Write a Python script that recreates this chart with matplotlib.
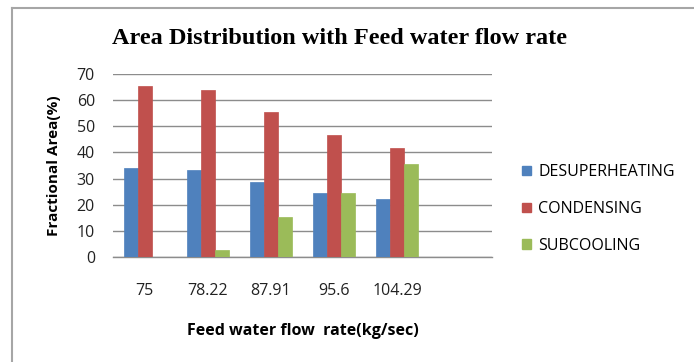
import matplotlib.pyplot as plt
import numpy as np
from matplotlib.lines import Line2D
from matplotlib.patches import Patch

# Data
flow_rates = ["75", "78.22", "87.91", "95.6", "104.29"]
desuperheating = [34.2, 33.1, 28.5, 24.4, 22.2]
condensing = [65.5, 63.7, 55.3, 46.6, 41.6]
subcooling = [0.0, 2.8, 15.4, 24.5, 35.4]

series = [
	("DESUPERHEATING", desuperheating, "#4F81BD"),
	("CONDENSING", condensing, "#C0504D"),
	("SUBCOOLING", subcooling, "#9BBB59"),
]

W, H = 694, 362
fig = plt.figure(figsize=(W / 100, H / 100), dpi=100)

# plot area in pixel coords: x 113..492, y 74..257
left, right, top, bottom = 113, 492, 74, 257
ax = fig.add_axes([left / W, 1 - bottom / H, (right - left) / W, (bottom - top) / H])

x = np.arange(len(flow_rates))
bar_w = 0.222
for i, (name, vals, color) in enumerate(series):
	ax.bar(x + (i - 1) * bar_w, vals, width=bar_w, color=color, zorder=3,
		edgecolor=color, linewidth=0.5)

ax.set_xlim(-0.5, len(flow_rates) + 0.5)
ax.set_ylim(0, 70)
ax.set_yticks(range(0, 71, 10))
ax.yaxis.grid(True, color="#8c8c8c", linewidth=1.0, zorder=0)
ax.set_xticks(x)
ax.set_xticklabels(flow_rates)
ax.tick_params(axis="both", length=0, labelsize=11.5, colors="#222222")
ax.tick_params(axis="x", pad=19)
ax.tick_params(axis="y", pad=13)
for lab in ax.get_xticklabels() + ax.get_yticklabels():
	lab.set_family("Open Sans")

for side in ["top", "right", "left"]:
	ax.spines[side].set_visible(False)
ax.spines["bottom"].set_color("#8c8c8c")
ax.spines["bottom"].set_linewidth(1.0)

ax.set_ylabel("Fractional Area(%)", fontsize=11, fontweight="bold",
	family="Open Sans", labelpad=11)
ax.set_xlabel("Feed water flow  rate(kg/sec)", fontsize=11.5, fontweight="bold",
	family="Open Sans", labelpad=17)

fig.text(340 / W, 1 - 38 / H, "Area Distribution with Feed water flow rate",
	ha="center", va="center", fontsize=17.5, fontweight="bold",
	family="Liberation Serif")

handles = [Patch(facecolor=c, edgecolor=c) for _, _, c in series]
fig.legend(handles, [s[0] for s in series], loc="center left",
	bbox_to_anchor=(508 / W, 1 - 209 / H), frameon=False,
	prop={"family": "Open Sans", "size": 11.5}, handlelength=0.55,
	handleheight=0.55, handletextpad=0.45, labelspacing=1.3)

# outer chart border
fig.add_artist(Line2D([11.5 / W, 11.5 / W], [0, 1 - 7.5 / H],
	transform=fig.transFigure, color="#a6a6a6", linewidth=1.5))
fig.add_artist(Line2D([11.5 / W, 1], [1 - 7.5 / H, 1 - 7.5 / H],
	transform=fig.transFigure, color="#a6a6a6", linewidth=1.5))

fig.savefig("out.png", dpi=100)
